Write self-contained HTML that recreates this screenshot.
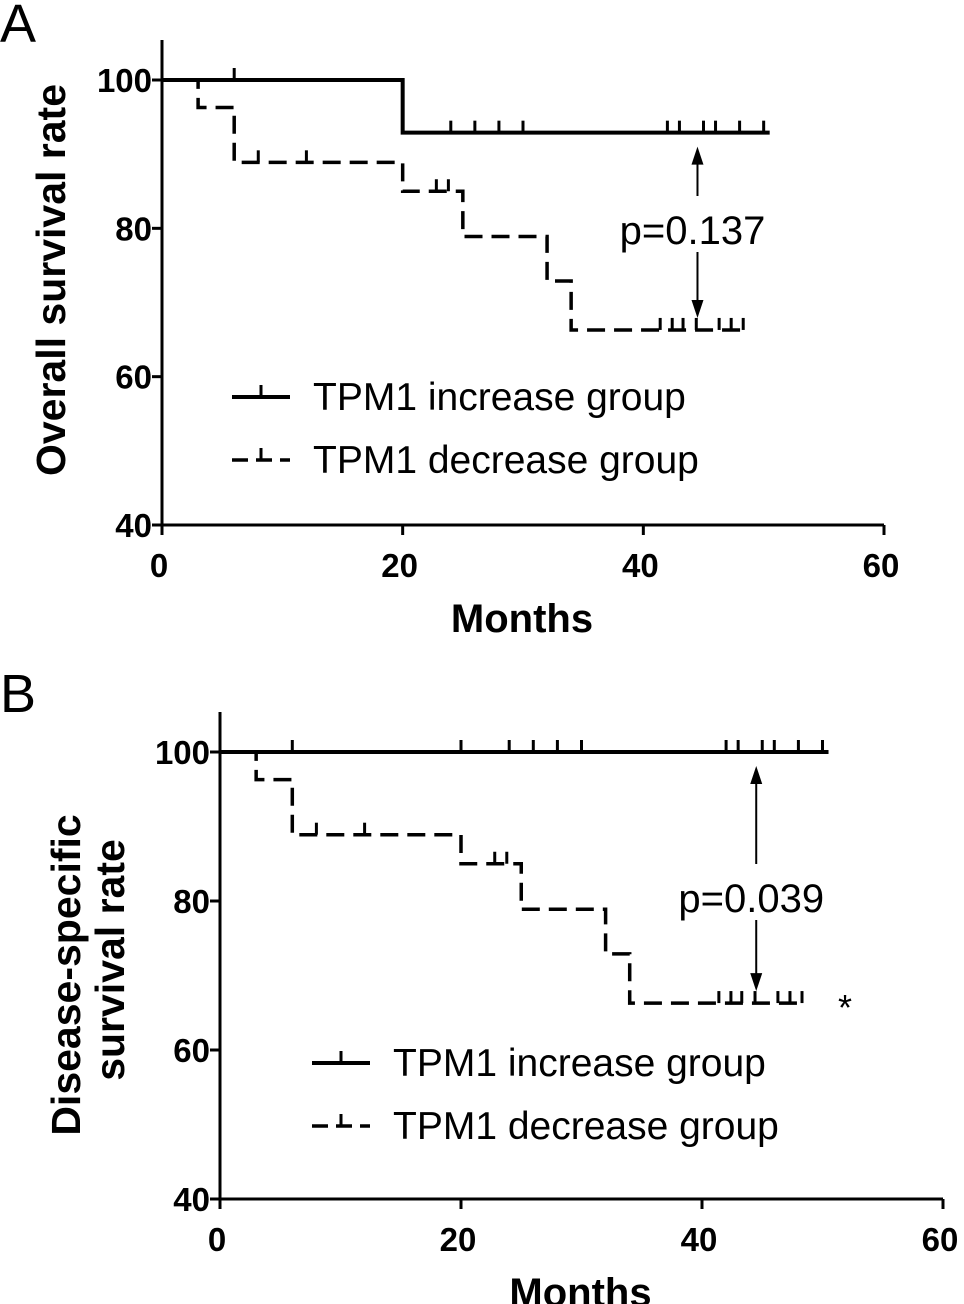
<!DOCTYPE html>
<html><head><meta charset="utf-8"><style>
body{margin:0;background:#fff;}
svg{display:block;font-family:"Liberation Sans",Arial,sans-serif;}
</style></head><body>
<svg id="chart" width="964" height="1304" viewBox="0 0 964 1304"></svg>
<script>
// Data
const xTicks=[0,20,40,60];
const yTicks=[40,60,80,100];
// Panel A - increase group (step times / survival)
const incA_times=[0,20,50.5];
const incA_surv=[100,92.9];
const incA_censor=[6,24,26,28,30,42,43,45,46,48,50];
// Panel B - increase group
const incB_times=[0,50.5];
const incB_surv=[100];
const incB_censor=[6,20,24,26,28,30,42,43,45,46,48,50];
// decrease group (both panels)
const dec_times=[0,3,6,20,25,32,34,48.3];
const dec_surv=[100,96.3,88.9,85.0,78.9,72.9,66.3];
const dec_censor=[8,12,22.8,23.8,41.4,42.4,43.3,44.4,46.3,47.3,48.3];
const pA="p=0.137", pB="p=0.039";

const NS="http://www.w3.org/2000/svg";
const svg=document.getElementById('chart');
function el(tag,attrs,parent){const e=document.createElementNS(NS,tag);for(const k in attrs)e.setAttribute(k,attrs[k]);(parent||svg).appendChild(e);return e;}

function panel(cfg){
  const g=el('g',{});
  
  
  const X=v=>cfg.x0+(v/60)*(cfg.x1-cfg.x0);
  const Y=v=>cfg.y0-(v-40)/60*(cfg.y0-cfg.y1);
  const ya=el('line',{x1:cfg.x0,y1:cfg.ytop,x2:cfg.x0,y2:cfg.y0+1.5,stroke:'#000','stroke-width':3},g);
  
  
  const xa=el('line',{x1:cfg.x0-1.5,y1:cfg.y0,x2:cfg.x1,y2:cfg.y0,stroke:'#000','stroke-width':3},g);
  
  
  xTicks.forEach(t=>{
    el('line',{x1:X(t),y1:cfg.y0,x2:X(t),y2:cfg.y0+10,stroke:'#000','stroke-width':3},g);
    const tx=el('text',{x:X(t)-3,y:cfg.y0+52,'font-size':33,'font-weight':'bold','text-anchor':'middle'},g);
    tx.textContent=t;
    
    
  });
  yTicks.forEach(t=>{
    el('line',{x1:cfg.x0-10,y1:Y(t),x2:cfg.x0,y2:Y(t),stroke:'#000','stroke-width':3},g);
    const tx=el('text',{x:cfg.x0-10,y:Y(t)+12,'font-size':33,'font-weight':'bold','text-anchor':'end'},g);
    tx.textContent=t;
    
    
  });
  function step(times,surv,dash,name){
    let d=`M${X(times[0])},${Y(surv[0])}`;
    for(let i=1;i<times.length;i++){
      d+=` H${X(times[i])}`;
      if(i<surv.length)d+=` V${Y(surv[i])}`;
    }
    const p=el('path',{d:d,fill:'none',stroke:'#000','stroke-width':dash?3.5:4,'stroke-dasharray':dash?'18 9':'none'},g);
    
    
  }
  function survAt(times,surv,t){let s=surv[0];for(let i=1;i<surv.length;i++){if(t>=times[i])s=surv[i];}return s;}
  function censors(times,surv,cs,name){
    cs.forEach(t=>{
      const yy=Y(survAt(times,surv,t));
      const c=el('line',{x1:X(t),y1:yy,x2:X(t),y2:yy-12,stroke:'#000','stroke-width':3},g);
      
      
    });
  }
  step(cfg.incT,cfg.incS,false,'increase-group-curve');
  censors(cfg.incT,cfg.incS,cfg.incC,'increase-censor-mark');
  step(dec_times,dec_surv,true,'decrease-group-curve');
  censors(dec_times,dec_surv,dec_censor,'decrease-censor-mark');
  const ax=X(44.5);
  const yTop=Y(survAt(cfg.incT,cfg.incS,44.5))+14, yBot=Y(66.3)-12;
  el('line',{x1:ax,y1:yTop+14,x2:ax,y2:cfg.pY-34,stroke:'#000','stroke-width':2},g);
  el('polygon',{points:`${ax-6},${yTop+18} ${ax+6},${yTop+18} ${ax},${yTop}`,fill:'#000'},g);
  el('line',{x1:ax,y1:cfg.pY+22,x2:ax,y2:yBot-14,stroke:'#000','stroke-width':2},g);
  el('polygon',{points:`${ax-6},${yBot-18} ${ax+6},${yBot-18} ${ax},${yBot}`,fill:'#000'},g);
  const pt=el('text',{x:ax-5,y:cfg.pY+14,'font-size':40,'text-anchor':'middle'},g);
  pt.textContent=cfg.p;
  
  
  const lg=el('g',{},g);
  
  
  el('line',{x1:cfg.lx,y1:cfg.ly,x2:cfg.lx+58,y2:cfg.ly,stroke:'#000','stroke-width':4},lg);
  el('line',{x1:cfg.lx+29,y1:cfg.ly,x2:cfg.lx+29,y2:cfg.ly-12,stroke:'#000','stroke-width':3},lg);
  el('path',{d:`M${cfg.lx},${cfg.ly+63} H${cfg.lx+58}`,stroke:'#000','stroke-width':3.5,'stroke-dasharray':'16 8'},lg);
  el('line',{x1:cfg.lx+29,y1:cfg.ly+63,x2:cfg.lx+29,y2:cfg.ly+51,stroke:'#000','stroke-width':3},lg);
  const l1=el('text',{x:cfg.lx+81,y:cfg.ly+13,'font-size':39},lg);l1.textContent='TPM1 increase group';
  
  
  const l2=el('text',{x:cfg.lx+81,y:cfg.ly+76,'font-size':39},lg);l2.textContent='TPM1 decrease group';
  
  
  const xt=el('text',{x:(cfg.x0+cfg.x1)/2-1,y:cfg.y0+107,'font-size':40,'font-weight':'bold','text-anchor':'middle'},g);
  xt.textContent='Months';
  
  
  const pl=el('text',{x:0,y:cfg.letterY,'font-size':54},g);
  pl.textContent=cfg.letter;
  
  
}

panel({name:'panel-a',x0:162,x1:884,y0:525,y1:80,ytop:40,incT:incA_times,incS:incA_surv,incC:incA_censor,p:pA,pY:230,lx:232,ly:397,letter:'A',letterY:42});
panel({name:'panel-b',x0:220,x1:943,y0:1199,y1:752,ytop:712,incT:incB_times,incS:incB_surv,incC:incB_censor,p:pB,pY:898,lx:312,ly:1063,letter:'B',letterY:712});

let t=el('text',{x:0,y:0,'font-size':41,'font-weight':'bold','text-anchor':'middle',transform:'translate(65,280) rotate(-90)'});
t.textContent='Overall survival rate';


t=el('text',{x:0,y:0,'font-size':41,'font-weight':'bold','text-anchor':'middle',transform:'translate(80,975) rotate(-90)'});
t.textContent='Disease-specific';


t=el('text',{x:0,y:0,'font-size':41,'font-weight':'bold','text-anchor':'middle',transform:'translate(124,960) rotate(-90)'});
t.textContent='survival rate';


t=el('text',{x:845,y:1020,'font-size':36,'text-anchor':'middle'});
t.textContent='*';


</script>
</body></html>
